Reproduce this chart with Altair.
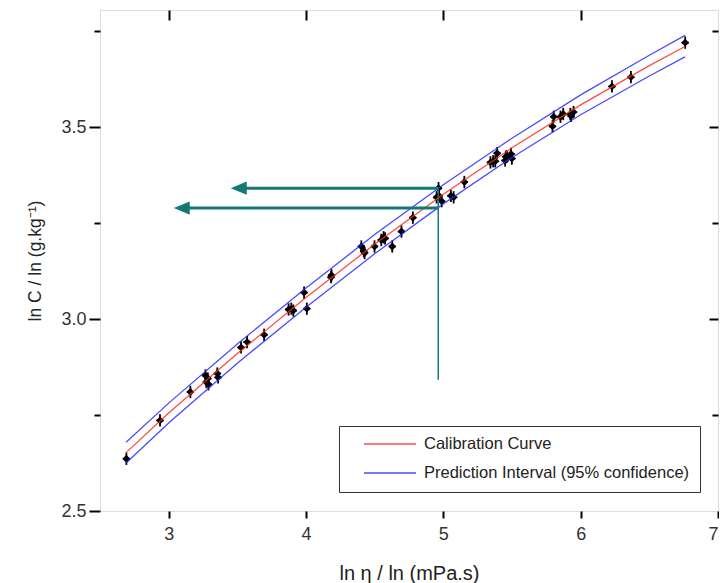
import altair as alt
import pandas as pd

# ---- measured data points (ln eta, ln C) ----
x_pts = [2.692, 2.937, 3.158, 3.268, 3.274, 3.285, 3.290, 3.354, 3.360, 3.527,
         3.571, 3.695, 3.873, 3.893, 3.908, 3.986, 4.006, 4.182, 4.186, 4.403,
         4.421, 4.427, 4.499, 4.548, 4.565, 4.576, 4.628, 4.695, 4.778, 4.951,
         4.965, 4.968, 4.988, 5.055, 5.075, 5.153, 5.343, 5.363, 5.378, 5.392,
         5.450, 5.455, 5.464, 5.493, 5.499, 5.795, 5.804, 5.853, 5.873, 5.925,
         5.930, 5.948, 6.228, 6.366, 6.761]
y_pts = [2.636, 2.736, 2.810, 2.853, 2.836, 2.845, 2.830, 2.858, 2.848, 2.926,
         2.940, 2.959, 3.025, 3.027, 3.022, 3.069, 3.027, 3.109, 3.114, 3.189,
         3.177, 3.172, 3.189, 3.206, 3.213, 3.210, 3.189, 3.228, 3.264, 3.317,
         3.341, 3.321, 3.307, 3.321, 3.317, 3.357, 3.408, 3.411, 3.411, 3.432,
         3.413, 3.423, 3.423, 3.430, 3.418, 3.502, 3.527, 3.527, 3.534, 3.534,
         3.529, 3.539, 3.606, 3.630, 3.720]

# ---- calibration curve and prediction interval ----
curve_x = [2.69, 3.0, 3.5, 4.0, 4.5, 5.0, 5.5, 6.0, 6.5, 6.76]
curve_y = [2.652, 2.755, 2.910, 3.056, 3.195, 3.325, 3.446, 3.558, 3.660, 3.710]
upper_y = [2.679, 2.781, 2.935, 3.081, 3.220, 3.350, 3.471, 3.584, 3.687, 3.739]
lower_y = [2.625, 2.729, 2.885, 3.031, 3.170, 3.300, 3.421, 3.532, 3.633, 3.683]

series_names = ["Calibration Curve", "Prediction Interval (95% confidence)"]
series_colors = ["#ff2a2a", "#2a2aff"]

# ---- teal reading arrows ----
arrow_y = [3.341, 3.289]
arrow_tip_x = [3.452, 3.037]
arrow_start_x = 4.963
vline_bottom_y = 2.842

x_ticks = [3, 4, 5, 6, 7]
x_ticks_top = [3, 4, 5, 6]
y_ticks = [2.5, 2.75, 3.0, 3.25, 3.5, 3.75]
y_ticks_right = [2.75, 3.0, 3.25, 3.5, 3.75]

x_domain = [2.5, 7.0]
y_domain = [2.5, 3.805]

FONT = "Liberation Sans"
TEAL = "#127878"

pts = pd.DataFrame({"x": x_pts, "y": y_pts})

rows = []
for cx, cy, uy, ly in zip(curve_x, curve_y, upper_y, lower_y):
    rows.append({"x": cx, "y": cy, "series": series_names[0], "part": "mid"})
    rows.append({"x": cx, "y": uy, "series": series_names[1], "part": "upper"})
    rows.append({"x": cx, "y": ly, "series": series_names[1], "part": "lower"})
curves = pd.DataFrame(rows)

arrows = pd.DataFrame({"y": arrow_y, "tip": arrow_tip_x,
                       "start": [arrow_start_x] * len(arrow_y)})
vline = pd.DataFrame({"x": [arrow_start_x], "y1": [vline_bottom_y], "y2": [max(arrow_y)]})

xs = alt.Scale(domain=x_domain, nice=False, zero=False)
ys = alt.Scale(domain=y_domain, nice=False, zero=False)

minor_test = "round(datum.value*100) % 50 != 0"

x_axis = alt.Axis(values=x_ticks, format="d", title="ln η / ln (mPa.s)",
                  domain=False, grid=False, tickSize=7, tickWidth=2, tickColor="black",
                  labelPadding=7, labelFontSize=18, labelColor="#333", labelFont=FONT,
                  titleFont=FONT, titleFontSize=20, titleFontWeight="normal",
                  titleColor="#222", titlePadding=20)
y_axis = alt.Axis(values=y_ticks, format=".1f",
                  labelExpr="(round(datum.value*100) % 50 == 0) ? datum.label : ''",
                  title="ln C / ln (g.kg⁻¹)", domain=False, grid=False,
                  tickSize=11,
                  tickDash={"condition": {"test": minor_test, "value": [6, 30]},
                            "value": [11, 0]},
                  tickWidth=2, tickColor="black",
                  labelPadding=3, labelFontSize=18, labelColor="#333", labelFont=FONT,
                  titleFont=FONT, titleFontSize=17.5, titleFontWeight="normal",
                  titleColor="#222", titlePadding=16)

x_axis_top = alt.Axis(orient="top", values=x_ticks_top, labels=False, title=None,
                      domain=False, grid=False, tickSize=10, tickWidth=2,
                      tickColor="black", offset=-10)
y_axis_right = alt.Axis(orient="right", values=y_ticks_right, labels=False, title=None,
                        domain=False, grid=False, tickSize=9, tickWidth=2,
                        tickColor="black", offset=-9,
                        tickDash={"condition": {"test": minor_test, "value": [0, 3, 6, 20]},
                                  "value": [9, 0]})

base_pts = alt.Chart(pts)

points = base_pts.mark_point(shape="diamond", filled=True, color="black",
                             size=62, opacity=1).encode(
    x=alt.X("x:Q", scale=xs, axis=x_axis),
    y=alt.Y("y:Q", scale=ys, axis=y_axis),
)

vbars = base_pts.transform_calculate(
    ylo="datum.y - 0.016", yhi="datum.y + 0.016"
).mark_rule(color="black", strokeWidth=1.8).encode(
    x=alt.X("x:Q", scale=xs, axis=None),
    y=alt.Y("ylo:Q", scale=ys, axis=None),
    y2="yhi:Q",
)

hbars = base_pts.transform_calculate(
    xlo="datum.x - 0.026", xhi="datum.x + 0.026"
).mark_rule(color="black", strokeWidth=1.8).encode(
    x=alt.X("xlo:Q", scale=xs, axis=None),
    x2="xhi:Q",
    y=alt.Y("y:Q", scale=ys, axis=None),
)

lines = alt.Chart(curves).mark_line(strokeWidth=1.3, opacity=0.85).encode(
    x=alt.X("x:Q", scale=xs, axis=None),
    y=alt.Y("y:Q", scale=ys, axis=None),
    color=alt.Color("series:N",
                    scale=alt.Scale(domain=series_names, range=series_colors),
                    legend=alt.Legend(orient="none", legendX=239, legendY=416,
                                      title=None, symbolType="stroke",
                                      symbolSize=2704, symbolStrokeWidth=1.5,
                                      clipHeight=16,
                                      labelFontSize=16.5, labelFont=FONT,
                                      labelColor="#222", labelOffset=7,
                                      labelExpr="(datum.label == 'Calibration Curve' ? '' : '\u00a0') + datum.label + '\u00a0\u00a0\u00a0\u00a0'",
                                      labelLimit=420, rowPadding=12,
                                      padding=10, symbolOffset=14,
                                      strokeColor="#333", fillColor="white")),
    detail="part:N",
    order="x:Q",
)

hrules = alt.Chart(arrows).transform_calculate(
    xl="datum.tip + 0.07"
).mark_rule(color=TEAL, strokeWidth=3).encode(
    x=alt.X("xl:Q", scale=xs, axis=None),
    x2="start:Q",
    y=alt.Y("y:Q", scale=ys, axis=None),
)

heads = alt.Chart(arrows).mark_point(
    shape="M-1,0L1,-0.82L1,0.82Z", filled=True, color=TEAL, opacity=1,
    size=256, xOffset=8
).encode(
    x=alt.X("tip:Q", scale=xs, axis=None),
    y=alt.Y("y:Q", scale=ys, axis=None),
)

vrule = alt.Chart(vline).mark_rule(color=TEAL, strokeWidth=1.5).encode(
    x=alt.X("x:Q", scale=xs, axis=None),
    y=alt.Y("y1:Q", scale=ys, axis=None),
    y2="y2:Q",
)

frame_axes = base_pts.mark_point(opacity=0).encode(
    x=alt.X("x:Q", scale=xs, axis=x_axis_top),
    y=alt.Y("y:Q", scale=ys, axis=y_axis_right),
)

chart = alt.layer(
    points, vbars, hbars, lines, hrules, heads, vrule, frame_axes
).resolve_axis(x="independent", y="independent").properties(
    width=618, height=501,
    autosize=alt.AutoSizeParams(type="none"),
    padding={"left": 92, "top": 2, "right": 1, "bottom": 72},
).configure_view(stroke="black", strokeWidth=2).configure(background="white")

chart.save("out.html", embed_options={"renderer": "svg", "actions": False})
